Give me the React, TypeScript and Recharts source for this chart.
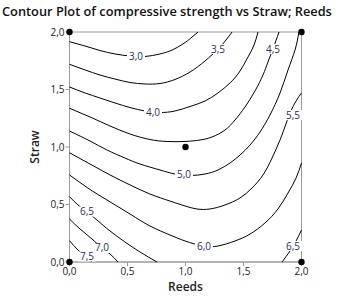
import { ScatterChart, Scatter, XAxis, YAxis, ReferenceArea } from 'recharts';

type Pt = { x: number; y: number };

const axisTicks = [0, 0.5, 1, 1.5, 2];

// contour lines, in (Reeds, Straw) units
const c30: Pt[] = [
  { x: 0, y: 1.916 }, { x: 0.134, y: 1.878 }, { x: 0.263, y: 1.839 }, { x: 0.392, y: 1.809 },
  { x: 0.522, y: 1.791 }, { x: 0.651, y: 1.787 }, { x: 0.78, y: 1.809 }, { x: 0.884, y: 1.843 },
  { x: 0.978, y: 1.896 }, { x: 1.047, y: 1.948 }, { x: 1.108, y: 2 },
];
const c35: Pt[] = [
  { x: 0, y: 1.719 }, { x: 0.134, y: 1.67 }, { x: 0.263, y: 1.626 }, { x: 0.392, y: 1.591 },
  { x: 0.522, y: 1.561 }, { x: 0.651, y: 1.548 }, { x: 0.78, y: 1.552 }, { x: 0.909, y: 1.587 },
  { x: 1.039, y: 1.652 }, { x: 1.168, y: 1.748 }, { x: 1.28, y: 1.852 }, { x: 1.349, y: 1.93 },
  { x: 1.401, y: 2 },
];
const c40: Pt[] = [
  { x: 0, y: 1.522 }, { x: 0.134, y: 1.47 }, { x: 0.263, y: 1.426 }, { x: 0.392, y: 1.383 },
  { x: 0.522, y: 1.343 }, { x: 0.651, y: 1.313 }, { x: 0.78, y: 1.3 }, { x: 0.909, y: 1.313 },
  { x: 1.039, y: 1.352 }, { x: 1.168, y: 1.4 }, { x: 1.28, y: 1.47 }, { x: 1.384, y: 1.557 },
  { x: 1.47, y: 1.661 }, { x: 1.539, y: 1.783 }, { x: 1.591, y: 1.887 }, { x: 1.625, y: 2 },
];
const c45: Pt[] = [
  { x: 0, y: 1.337 }, { x: 0.177, y: 1.261 }, { x: 0.349, y: 1.183 }, { x: 0.522, y: 1.113 },
  { x: 0.694, y: 1.065 }, { x: 0.841, y: 1.048 }, { x: 0.996, y: 1.048 }, { x: 1.125, y: 1.061 },
  { x: 1.228, y: 1.087 }, { x: 1.341, y: 1.148 }, { x: 1.427, y: 1.235 }, { x: 1.513, y: 1.348 },
  { x: 1.599, y: 1.487 }, { x: 1.668, y: 1.626 }, { x: 1.711, y: 1.739 }, { x: 1.754, y: 1.852 },
  { x: 1.806, y: 2 },
];
const c50: Pt[] = [
  { x: 0, y: 1.139 }, { x: 0.177, y: 1.052 }, { x: 0.323, y: 0.974 }, { x: 0.478, y: 0.904 },
  { x: 0.608, y: 0.852 }, { x: 0.78, y: 0.8 }, { x: 0.909, y: 0.765 }, { x: 1.039, y: 0.752 },
  { x: 1.168, y: 0.765 }, { x: 1.28, y: 0.8 }, { x: 1.384, y: 0.861 }, { x: 1.47, y: 0.93 },
  { x: 1.556, y: 1.017 }, { x: 1.642, y: 1.13 }, { x: 1.728, y: 1.278 }, { x: 1.815, y: 1.47 },
  { x: 1.884, y: 1.67 }, { x: 1.944, y: 1.843 }, { x: 1.978, y: 2 },
];
const c55: Pt[] = [
  { x: 0, y: 0.95 }, { x: 0.177, y: 0.852 }, { x: 0.349, y: 0.757 }, { x: 0.522, y: 0.67 },
  { x: 0.694, y: 0.591 }, { x: 0.866, y: 0.53 }, { x: 0.996, y: 0.487 }, { x: 1.099, y: 0.461 },
  { x: 1.211, y: 0.461 }, { x: 1.341, y: 0.496 }, { x: 1.47, y: 0.557 }, { x: 1.573, y: 0.643 },
  { x: 1.668, y: 0.757 }, { x: 1.746, y: 0.904 }, { x: 1.815, y: 1.061 }, { x: 1.866, y: 1.2 },
  { x: 1.909, y: 1.313 }, { x: 1.953, y: 1.4 }, { x: 2, y: 1.47 },
];
const c60: Pt[] = [
  { x: 0, y: 0.757 }, { x: 0.159, y: 0.643 }, { x: 0.323, y: 0.539 }, { x: 0.522, y: 0.417 },
  { x: 0.694, y: 0.313 }, { x: 0.866, y: 0.235 }, { x: 0.996, y: 0.183 }, { x: 1.151, y: 0.139 },
  { x: 1.28, y: 0.139 }, { x: 1.427, y: 0.183 }, { x: 1.556, y: 0.243 }, { x: 1.685, y: 0.339 },
  { x: 1.797, y: 0.461 }, { x: 1.884, y: 0.6 }, { x: 1.953, y: 0.73 }, { x: 2, y: 0.861 },
];
const c65a: Pt[] = [
  { x: 0, y: 0.568 }, { x: 0.073, y: 0.496 }, { x: 0.151, y: 0.435 }, { x: 0.246, y: 0.357 },
  { x: 0.349, y: 0.27 }, { x: 0.478, y: 0.174 }, { x: 0.608, y: 0.087 }, { x: 0.754, y: 0 },
];
const c65b: Pt[] = [
  { x: 1.832, y: 0 }, { x: 1.901, y: 0.096 }, { x: 1.953, y: 0.183 }, { x: 2, y: 0.278 },
];
const c70: Pt[] = [
  { x: 0, y: 0.374 }, { x: 0.091, y: 0.287 }, { x: 0.194, y: 0.2 }, { x: 0.28, y: 0.122 },
  { x: 0.349, y: 0.07 }, { x: 0.418, y: 0 },
];
const c75: Pt[] = [
  { x: 0, y: 0.185 }, { x: 0.073, y: 0.104 }, { x: 0.142, y: 0.043 }, { x: 0.194, y: 0 },
];

const contourLines = [c30, c35, c40, c45, c50, c55, c60, c65a, c65b, c70, c75];

const levelLabels = [
  { x: 0.573, y: 1.787, text: '3,0' },
  { x: 1.28, y: 1.852, text: '3,5' },
  { x: 0.72, y: 1.304, text: '4,0' },
  { x: 1.754, y: 1.852, text: '4,5' },
  { x: 0.987, y: 0.757, text: '5,0' },
  { x: 1.927, y: 1.278, text: '5,5' },
  { x: 1.159, y: 0.139, text: '6,0' },
  { x: 0.151, y: 0.439, text: '6,5' },
  { x: 1.927, y: 0.139, text: '6,5' },
  { x: 0.28, y: 0.122, text: '7,0' },
  { x: 0.151, y: 0.048, text: '7,5' },
];

const designPoints: Pt[] = [
  { x: 0, y: 0 }, { x: 0, y: 2 }, { x: 2, y: 0 }, { x: 2, y: 2 }, { x: 1, y: 1 },
];

const FONT = '"Open Sans", "Noto Sans", sans-serif';
const fmt = (v: number) => v.toFixed(1).replace('.', ',');

const LevelLabel = (props: any) => {
  const { cx, cy, payload } = props;
  return (
    <g>
      <rect x={cx - 9} y={cy - 5} width={18} height={10} fill="#ffffff" />
      <text x={cx} y={cy} dy="0.35em" textAnchor="middle" fontSize={10} fill="#1f2d5c" fontFamily={FONT}>
        {payload.text}
      </text>
    </g>
  );
};

const Dot = (props: any) => <circle cx={props.cx} cy={props.cy} r={3.2} fill="#000" />;

export default function App() {
  return (
    <div style={{ position: 'fixed', left: 0, top: 0, width: 347, height: 297, background: '#fff' }}>
      <div
        style={{
          position: 'absolute', left: 2, top: 2, fontFamily: FONT, fontWeight: 600,
          fontSize: 12.8, color: '#111', whiteSpace: 'nowrap', lineHeight: '18px',
        }}
      >
        Contour Plot of compressive strength vs Straw; Reeds
      </div>
      <ScatterChart width={347} height={297} margin={{ top: 32, right: 45.5, bottom: 0, left: 0 }}>
        <XAxis
          type="number"
          dataKey="x"
          domain={[0, 2]}
          ticks={axisTicks}
          tickFormatter={fmt}
          height={35}
          stroke="#9a9a9a"
          tickSize={4}
          tickMargin={2}
          tick={{ fill: '#222', fontSize: 10, fontFamily: FONT }}
          label={{ value: 'Reeds', position: 'insideBottom', offset: 6, fill: '#222', fontSize: 12, fontWeight: 600, fontFamily: FONT }}
        />
        <YAxis
          type="number"
          dataKey="y"
          domain={[0, 2]}
          ticks={axisTicks}
          tickFormatter={fmt}
          width={69.5}
          stroke="#9a9a9a"
          tickSize={4}
          tickMargin={1}
          tick={{ fill: '#222', fontSize: 10, fontFamily: FONT }}
          label={{ value: 'Straw', angle: -90, position: 'center', fill: '#222', fontSize: 12, fontWeight: 600, fontFamily: FONT }}
        />
        {contourLines.map((d, i) => (
          <Scatter
            key={i}
            data={d}
            line={{ stroke: '#000', strokeWidth: 1 }}
            lineJointType="natural"
            shape={() => <g />}
            isAnimationActive={false}
            legendType="none"
          />
        ))}
        <Scatter data={levelLabels} shape={LevelLabel} isAnimationActive={false} legendType="none" />
        <ReferenceArea x1={0} x2={2} y1={0} y2={2} fill="none" fillOpacity={0} stroke="#9a9a9a" strokeWidth={1} />
        <Scatter data={designPoints} shape={Dot} isAnimationActive={false} legendType="none" />
      </ScatterChart>
    </div>
  );
}
